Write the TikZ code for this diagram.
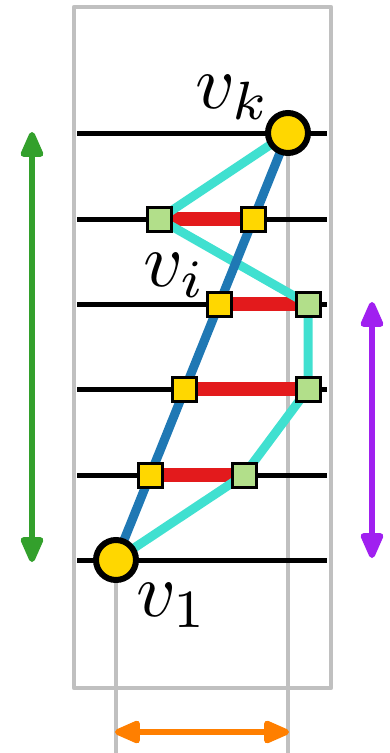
\documentclass[tikz,border=0pt]{standalone}
\usepackage{graphicx}
\usepackage{tikz}
\usetikzlibrary{arrows.meta, backgrounds}

\definecolor{vgold}{HTML}{FFD700}
\definecolor{lgreen}{HTML}{B2DF8A}
\definecolor{dred}{HTML}{E31A1C}
\definecolor{dblue}{HTML}{1F78B4}
\definecolor{tcyan}{HTML}{40E0D0}
\definecolor{dgreen}{HTML}{33A02C}
\definecolor{dpurple}{HTML}{A020F0}
\definecolor{dorange}{HTML}{FF7F00}
\definecolor{lgray}{HTML}{C0C0C0}

\newcommand{\biglab}[1]{\scalebox{7.7}{$#1$}}

\begin{document}
\begin{tikzpicture}[x=1pt, y=-1pt,
    vert/.style={circle, draw=black, line width=6pt, fill=vgold, minimum size=40pt, inner sep=0pt},
    sqy/.style={rectangle, draw=black, line width=3pt, fill=vgold, minimum size=24pt, inner sep=0pt},
    sqg/.style={sqy, fill=lgreen},
    frame/.style={draw=lgray, line width=4.5pt, line join=round},
    rung/.style={draw=black, line width=5pt},
    match/.style={draw=dred, line width=14pt},
    walk/.style={draw=tcyan, line width=9pt, line join=round},
    chain/.style={draw=dblue, line width=9pt},
    span/.style={line width=6pt, {Triangle[length=30pt, width=24pt, round]}-{Triangle[length=30pt, width=24pt, round]}},
    lab/.style={inner sep=0pt, anchor=base west}]
    \useasboundingbox (0,0) rectangle (390,753);

    \node[vert] (v1) at (116,560) {};
    \node[vert] (vk) at (288,133) {};

    \node[sqy] (a2) at (150,475) {};
    \node[sqg] (b2) at (244,475) {};
    \node[sqy] (a3) at (184,389) {};
    \node[sqg] (b3) at (308,389) {};
    \node[sqy] (a4) at (219,304) {};
    \node[sqg] (b4) at (308,304) {};
    \node[sqy] (a5) at (253,219) {};
    \node[sqg] (b5) at (159,219) {};

    \node[lab] (lk) at (195,108) {\biglab{v_k}};
    \node[lab] (li) at (143,286) {\biglab{v_i}};
    \node[lab] (l1) at (136,616) {\biglab{v_1}};

    \coordinate (g1) at (116,753);
    \coordinate (g2) at (288,753);
    \foreach \i/\y in {1/560,2/475,3/389,4/304,5/219,6/133} {
        \coordinate (l\i) at (77,\y);
        \coordinate (r\i) at (327,\y);
    }
    \coordinate (gt) at (32,132);
    \coordinate (gb) at (32,562);
    \coordinate (pt) at (372,302);
    \coordinate (pb) at (372,558);
    \coordinate (ol) at (115,732);
    \coordinate (or) at (289,732);

    \begin{pgfonlayer}{background}
        \draw[frame] (74,7) rectangle (331,688);
        \draw[frame] (v1.center) -- (g1);
        \draw[frame] (vk.center) -- (g2);
        \foreach \i in {1,...,6}
            \draw[rung] (l\i) -- (r\i);
        \draw[match] (a2.center) -- (b2.center);
        \draw[match] (a3.center) -- (b3.center);
        \draw[match] (a4.center) -- (b4.center);
        \draw[match] (a5.center) -- (b5.center);
        \draw[walk] (vk.center) -- (b5.center) -- (b4.center) -- (b3.center) -- (b2.center) -- (v1.center);
        \draw[chain] (v1.center) -- (vk.center);
    \end{pgfonlayer}

    \draw[span, dgreen] (gt) -- (gb);
    \draw[span, dpurple] (pt) -- (pb);
    \draw[span, dorange] (ol) -- (or);
\end{tikzpicture}
\end{document}
